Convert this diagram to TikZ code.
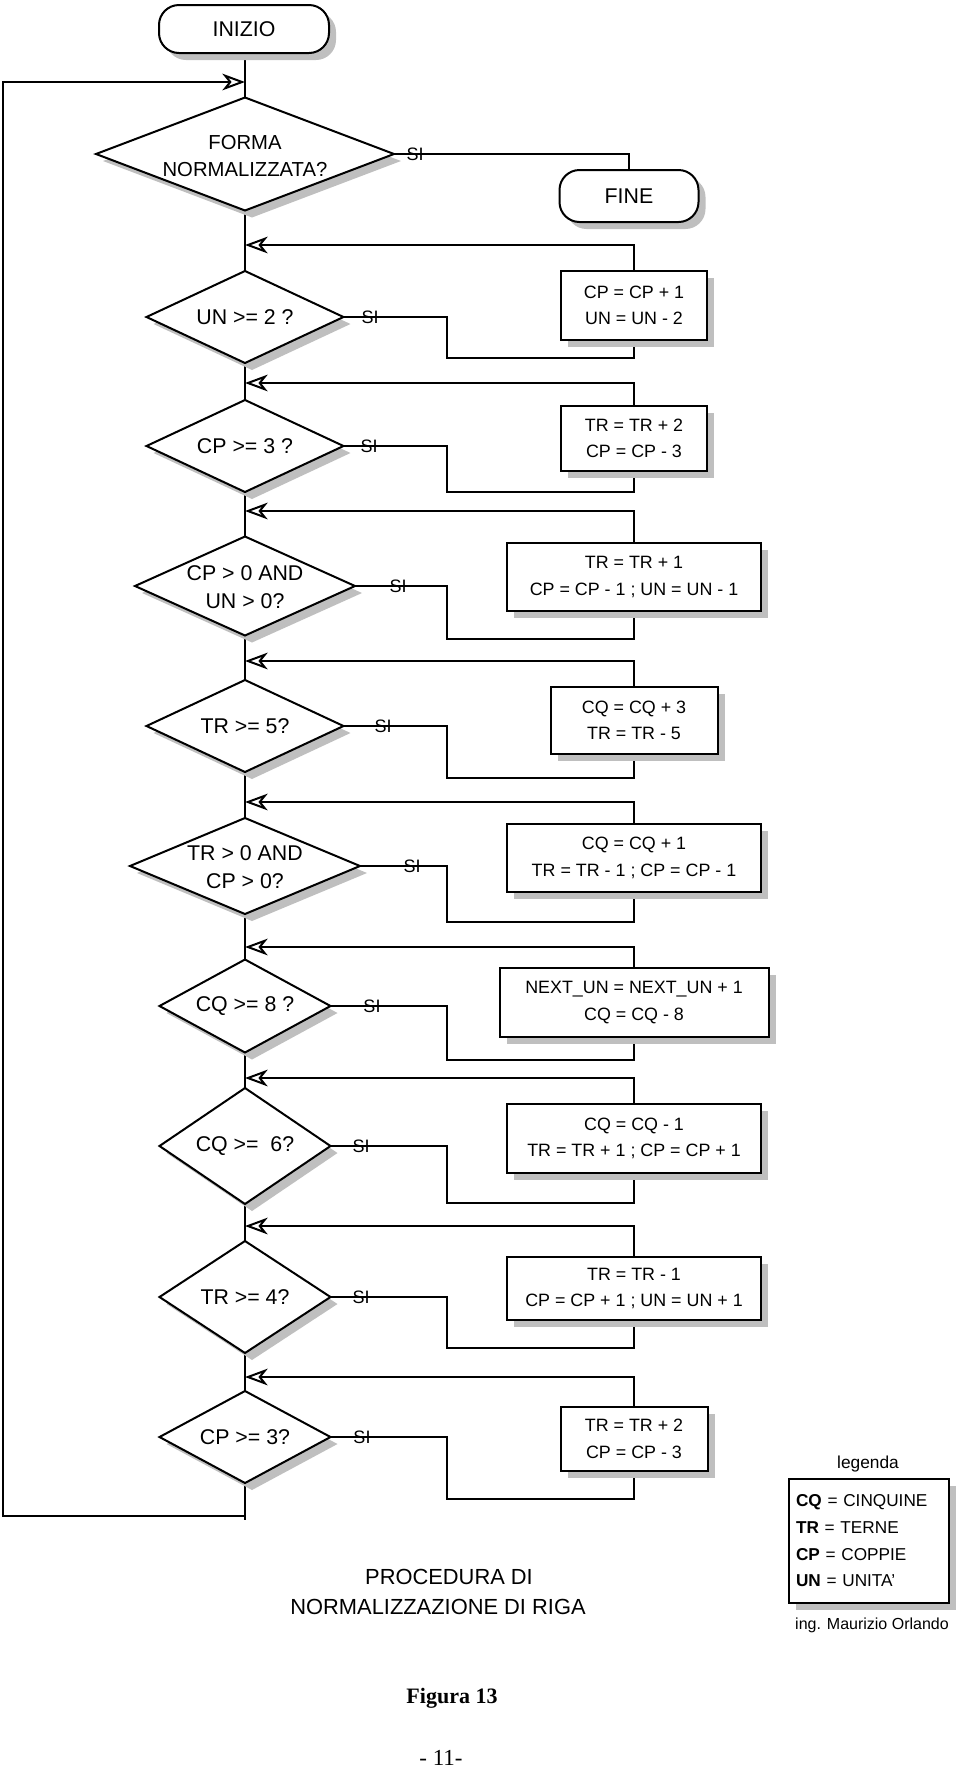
\documentclass[tikz,border=0pt]{standalone}
\usepackage{fontspec}
\setmainfont{Liberation Sans}
\newfontfamily\seriffont{Liberation Serif}
\usetikzlibrary{shapes.geometric,shadows,arrows.meta,backgrounds}
\tikzset{
  every node/.style={inner sep=0pt, outer sep=0pt},
  shad/.style={drop shadow={shadow xshift=5.25pt, shadow yshift=-5.25pt, fill=black!25, opacity=1}},
  term/.style={draw, line width=1.5pt, fill=white, rounded corners=15pt, shad, font=\fontsize{16}{20}\selectfont},
  dec/.style={draw, diamond, line width=1.5pt, fill=white, shad},
  dtext/.style={align=center, font=\fontsize{16}{21}\selectfont},
  proc/.style={draw, rectangle, line width=1.5pt, fill=white, shad, align=center, font=\fontsize{13.4}{20}\selectfont},
  silab/.style={font=\fontsize{13.5}{15}\selectfont},
  conn/.style={line width=1.5pt},
  arr/.style={line width=1.5pt, -{Stealth[open, length=17pt, width=12.5pt, inset=5pt]}},
}
\begin{document}
\begin{tikzpicture}[x=0.75pt, y=-0.75pt]
\useasboundingbox (0,0) rectangle (960,1775);

% terminals
\node[term, minimum width=127.5pt, minimum height=36pt] (ini) at (244,29) {INIZIO};
\node[term, minimum width=104.25pt, minimum height=39pt] (fine) at (629,196) {FINE};

% decisions
\node[dec, minimum width=223.5pt, minimum height=84.75pt] (d1) at (245,154) {};
\node[dec, minimum width=147.75pt, minimum height=69pt] (d2) at (245,317) {};
\node[dec, minimum width=147.75pt, minimum height=69pt] (d3) at (245,446) {};
\node[dec, minimum width=165pt, minimum height=74.25pt] (d4) at (245,586) {};
\node[dec, minimum width=147.75pt, minimum height=69pt] (d5) at (245,726) {};
\node[dec, minimum width=172.5pt, minimum height=72pt] (d6) at (245,866) {};
\node[dec, minimum width=128.25pt, minimum height=69.75pt] (d7) at (245,1006) {};
\node[dec, minimum width=128.25pt, minimum height=87pt] (d8) at (245,1146) {};
\node[dec, minimum width=128.25pt, minimum height=84pt] (d9) at (245,1297) {};
\node[dec, minimum width=128.25pt, minimum height=69pt] (d10) at (245,1437) {};

\node[dtext, font=\fontsize{15.2}{20.5}\selectfont] (t1) at (245,156) {FORMA\\NORMALIZZATA?};
\node[dtext] (t2) at (245,317) {UN >= 2 ?};
\node[dtext] (t3) at (245,446) {CP >= 3 ?};
\node[dtext] (t4) at (245,587) {CP > 0 AND\\UN > 0?};
\node[dtext] (t5) at (245,726) {TR >= 5?};
\node[dtext] (t6) at (245,867) {TR > 0 AND\\CP > 0?};
\node[dtext] (t7) at (245,1006) {CQ >= 8 ?};
\node[dtext] (t8) at (245,1146) {CQ >=\ \ 6?};
\node[dtext] (t9) at (245,1297) {TR >= 4?};
\node[dtext] (t10) at (245,1437) {CP >= 3?};

% process boxes
\node[proc, minimum width=109.5pt, minimum height=51.75pt] (b1) at (634,305.5) {CP = CP + 1\\UN = UN - 2};
\node[proc, minimum width=109.5pt, minimum height=48.75pt] (b2) at (634,438.5) {TR = TR + 2\\CP = CP - 3};
\node[proc, minimum width=190.5pt, minimum height=51pt] (b3) at (634,577) {TR = TR + 1\\CP = CP - 1 ; UN = UN - 1};
\node[proc, minimum width=125.25pt, minimum height=50.25pt] (b4) at (634,720.5) {CQ = CQ + 3\\TR = TR - 5};
\node[proc, minimum width=190.5pt, minimum height=51pt] (b5) at (634,858) {CQ = CQ + 1\\TR = TR - 1 ; CP = CP - 1};
\node[proc, minimum width=201.75pt, minimum height=51.75pt] (b6) at (634,1002.5) {NEXT\_UN = NEXT\_UN + 1\\CQ = CQ - 8};
\node[proc, minimum width=190.5pt, minimum height=51.75pt] (b7) at (634,1138.5) {CQ = CQ - 1\\TR = TR + 1 ; CP = CP + 1};
\node[proc, minimum width=190.5pt, minimum height=47.25pt] (b8) at (634,1288.5) {TR = TR - 1\\CP = CP + 1 ; UN = UN + 1};
\node[proc, minimum width=110.25pt, minimum height=48pt] (b9) at (634,1439) {TR = TR + 2\\CP = CP - 3};

% SI labels
\node[silab] (s1) at (415,154) {SI};
\node[silab] (s2) at (370,317) {SI};
\node[silab] (s3) at (369,446) {SI};
\node[silab] (s4) at (398,586) {SI};
\node[silab] (s5) at (383,726) {SI};
\node[silab] (s6) at (412,866) {SI};
\node[silab] (s7) at (372,1006) {SI};
\node[silab] (s8) at (361,1146) {SI};
\node[silab] (s9) at (361,1297) {SI};
\node[silab] (s10) at (362,1437) {SI};

% coordinates
\coordinate (a1) at (245,245);
\coordinate (a2) at (245,383);
\coordinate (a3) at (245,511);
\coordinate (a4) at (245,661);
\coordinate (a5) at (245,802);
\coordinate (a6) at (245,947);
\coordinate (a7) at (245,1078);
\coordinate (a8) at (245,1226);
\coordinate (a9) at (245,1377);
\coordinate (c2) at (447,358);
\coordinate (c3) at (447,492);
\coordinate (c4) at (447,639);
\coordinate (c5) at (447,778);
\coordinate (c6) at (447,922);
\coordinate (c7) at (447,1060);
\coordinate (c8) at (447,1203);
\coordinate (c9) at (447,1348);
\coordinate (c10) at (447,1499);
\coordinate (sp) at (245,1520);
\coordinate (lb0) at (245,1516);
\coordinate (lt) at (2.5,82);
\coordinate (in0) at (245,82);
\coordinate (top0) at (245,53);

% legend and captions
\node[font=\fontsize{13}{15}\selectfont] (legt) at (868,1464) {legenda};
\node[draw, line width=1.5pt, fill=white, shad, minimum width=120pt, minimum height=93pt, text width=109.5pt, align=left, font=\fontsize{12.9}{20}\selectfont] (leg) at (869,1541)
  {\textbf{CQ} = CINQUINE\\\textbf{TR} = TERNE\\\textbf{CP} = COPPIE\\\textbf{UN} = UNITA'};
\node[font=\fontsize{12}{14}\selectfont] (auth) at (872,1625) {ing. Maurizio Orlando};
\node[font=\fontsize{16.4}{20}\selectfont] (p1) at (449,1577) {PROCEDURA DI};
\node[font=\fontsize{16.4}{20}\selectfont] (p2) at (438,1607) {NORMALIZZAZIONE DI RIGA};
\node[font=\seriffont\bfseries\fontsize{16.5}{20}\selectfont] (fig) at (452,1698) {Figura 13};
\node[font=\seriffont\fontsize{17.2}{20}\selectfont] (pg) at (441,1758) {- 11-};

\begin{scope}[on background layer]
  \draw[conn] (top0) -- (d1.north);
  \draw[conn] (d1.south) -- (d2.north);
  \draw[conn] (d2.south) -- (d3.north);
  \draw[conn] (d3.south) -- (d4.north);
  \draw[conn] (d4.south) -- (d5.north);
  \draw[conn] (d5.south) -- (d6.north);
  \draw[conn] (d6.south) -- (d7.north);
  \draw[conn] (d7.south) -- (d8.north);
  \draw[conn] (d8.south) -- (d9.north);
  \draw[conn] (d9.south) -- (d10.north);
  \draw[conn] (d10.south) -- (sp);
  \draw[arr] (lb0) -| (lt) -- (in0);
  \draw[conn] (d1.east) -| (fine.north);
  \draw[conn] (d2.east) -| (c2) -| (b1.south);
  \draw[conn] (d3.east) -| (c3) -| (b2.south);
  \draw[conn] (d4.east) -| (c4) -| (b3.south);
  \draw[conn] (d5.east) -| (c5) -| (b4.south);
  \draw[conn] (d6.east) -| (c6) -| (b5.south);
  \draw[conn] (d7.east) -| (c7) -| (b6.south);
  \draw[conn] (d8.east) -| (c8) -| (b7.south);
  \draw[conn] (d9.east) -| (c9) -| (b8.south);
  \draw[conn] (d10.east) -| (c10) -| (b9.south);
  \draw[arr] (b1.north) |- (a1);
  \draw[arr] (b2.north) |- (a2);
  \draw[arr] (b3.north) |- (a3);
  \draw[arr] (b4.north) |- (a4);
  \draw[arr] (b5.north) |- (a5);
  \draw[arr] (b6.north) |- (a6);
  \draw[arr] (b7.north) |- (a7);
  \draw[arr] (b8.north) |- (a8);
  \draw[arr] (b9.north) |- (a9);
\end{scope}
\end{tikzpicture}
\end{document}
